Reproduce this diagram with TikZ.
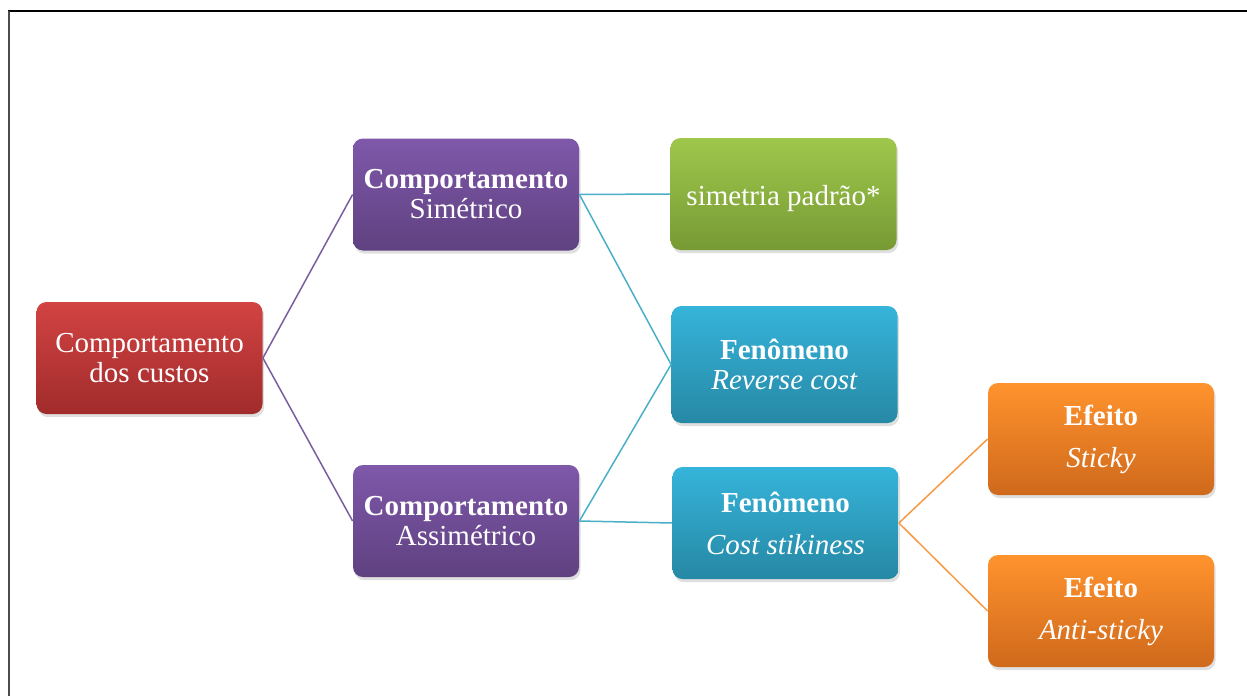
\documentclass[tikz,border=0pt]{standalone}
\usepackage{fontspec}
\setmainfont{Liberation Serif}
\usetikzlibrary{shadows}

\definecolor{redtop}{HTML}{D24343}
\definecolor{redbot}{HTML}{A12B2B}
\definecolor{purtop}{HTML}{7F58AA}
\definecolor{purbot}{HTML}{5F4180}
\definecolor{grntop}{HTML}{9FC74C}
\definecolor{grnbot}{HTML}{779A34}
\definecolor{blutop}{HTML}{36B4DA}
\definecolor{blubot}{HTML}{2688A5}
\definecolor{orgtop}{HTML}{FF932D}
\definecolor{orgbot}{HTML}{CF691C}
\definecolor{puredge}{HTML}{7A5E9E}
\definecolor{bluedge}{HTML}{4BAFC8}
\definecolor{orgedge}{HTML}{F59A45}

\tikzset{
  box/.style={rounded corners=5pt, text=white, align=center,
    minimum width=113pt, minimum height=56pt, inner sep=2pt,
    font=\fontsize{14.5}{15}\selectfont,
    drop shadow={opacity=0.25, shadow xshift=0.8pt, shadow yshift=-1.6pt}},
  redbox/.style={box, top color=redtop, bottom color=redbot},
  purbox/.style={box, top color=purtop, bottom color=purbot},
  grnbox/.style={box, top color=grntop, bottom color=grnbot},
  blubox/.style={box, top color=blutop, bottom color=blubot},
  orgbox/.style={box, top color=orgtop, bottom color=orgbot},
}

\begin{document}
\begin{tikzpicture}[x=0.5pt,y=-0.5pt]
\useasboundingbox (0,0) rectangle (1247,696);
% frame
\draw[line width=1pt] (8,11) -- (1247,11);
\draw[line width=0.8pt, black!70] (9,11) -- (9,696);

\node[redbox] (1) at (149.5,358) {Comportamento\\dos custos};
\node[purbox] (2) at (466,194.5) {\textbf{Comportamento}\\Simétrico};
\node[purbox] (3) at (466,521) {\textbf{Comportamento}\\Assimétrico};
\node[grnbox] (4) at (783.5,194) {\raisebox{-2.5pt}[\height][\depth]{simetria padrão*}};
\node[blubox, minimum height=58.5pt] (5) at (784.5,364.5) {\textbf{Fenômeno}\\\textit{Reverse cost}};
\node[blubox] (6) at (785.5,523) {\textbf{Fenômeno}\\[6pt]\textit{Cost stikiness}};
\node[orgbox] (7) at (1101,439) {\textbf{Efeito}\\[6pt]\textit{Sticky}};
\node[orgbox] (8) at (1101,611) {\textbf{Efeito}\\[6pt]\textit{Anti-sticky}};

\path[draw,line width=0.75pt,puredge] (1.east) -- (2.west);
\path[draw,line width=0.75pt,puredge] (1.east) -- (3.west);
\path[draw,line width=0.75pt,bluedge] (2.east) -- (4.west);
\path[draw,line width=0.75pt,bluedge] (2.east) -- (5.west);
\path[draw,line width=0.75pt,bluedge] (3.east) -- (5.west);
\path[draw,line width=0.75pt,bluedge] (3.east) -- (6.west);
\path[draw,line width=0.75pt,orgedge] (6.east) -- (7.west);
\path[draw,line width=0.75pt,orgedge] (6.east) -- (8.west);
\end{tikzpicture}
\end{document}
